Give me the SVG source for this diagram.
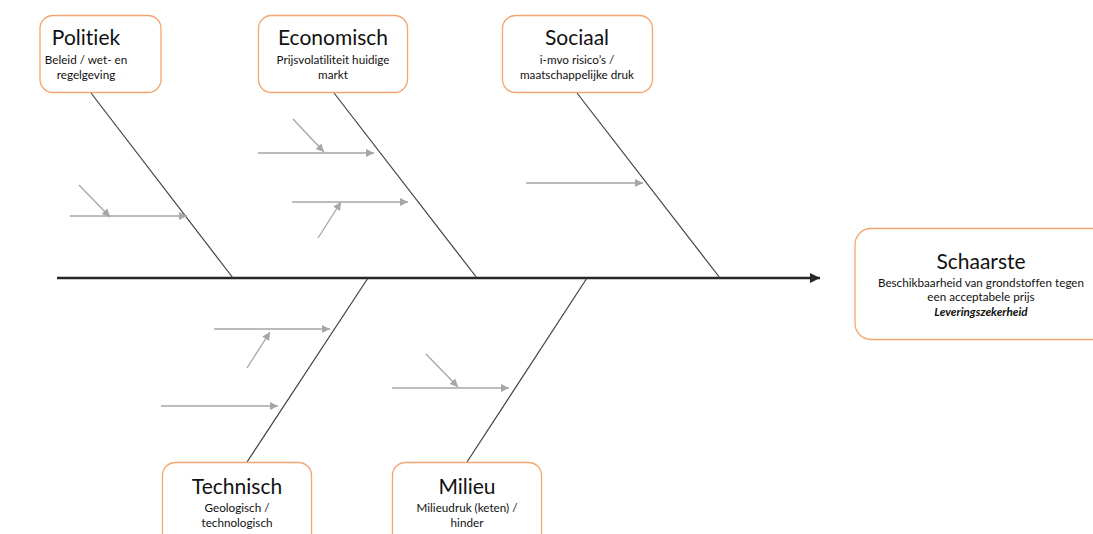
<svg xmlns="http://www.w3.org/2000/svg" width="1093" height="534" viewBox="0 0 1093 534">
  <style>
    text { font-variant-ligatures: none; font-feature-settings: "liga" 0, "dlig" 0; }
    .box { fill: #ffffff; stroke: #f4a46e; stroke-width: 1.3; }
    .title { font-family: Lato, "Open Sans", "Liberation Sans", sans-serif; font-size: 21px; fill: #111111; text-anchor: middle; }
    .sub { font-family: Lato, "Open Sans", "Liberation Sans", sans-serif; font-size: 11.7px; fill: #111111; text-anchor: middle; }
    .em { font-weight: bold; font-style: italic; }
    .bone { stroke: #404040; stroke-width: 1.2; fill: none; }
    .spine { stroke: #262626; stroke-width: 2.5; fill: none; }
    .cause { stroke: #a6a6a6; stroke-width: 1.3; fill: none; }
  </style>
  <defs>
    <marker id="arrow-gray" viewBox="0 0 10 10" refX="10" refY="5" markerWidth="9" markerHeight="8" markerUnits="userSpaceOnUse" orient="auto">
      <path d="M0,0 L10,5 L0,10 Z" fill="#a6a6a6"/>
    </marker>
    <marker id="arrow-dark" viewBox="0 0 10 10" refX="10" refY="5" markerWidth="10" markerHeight="10" markerUnits="userSpaceOnUse" orient="auto">
      <path d="M0,0 L10,5 L0,10 Z" fill="#262626"/>
    </marker>
  </defs>
  <rect width="1093" height="534" fill="#ffffff"/>

  <g id="connectors">
    <!-- spine -->
    <line class="spine" x1="57" y1="278" x2="820" y2="278" marker-end="url(#arrow-dark)"/>
    <!-- main bones -->
    <line class="bone" x1="91" y1="93" x2="233" y2="278"/>
    <line class="bone" x1="334" y1="93" x2="477" y2="278"/>
    <line class="bone" x1="577" y1="93" x2="720" y2="278"/>
    <line class="bone" x1="368" y1="278" x2="247" y2="462"/>
    <line class="bone" x1="587" y1="278" x2="467" y2="462"/>
    <!-- sub causes: Politiek -->
    <line class="cause" x1="70" y1="216" x2="187" y2="216" marker-end="url(#arrow-gray)"/>
    <line class="cause" x1="79" y1="185" x2="110" y2="217" marker-end="url(#arrow-gray)"/>
    <!-- sub causes: Economisch -->
    <line class="cause" x1="258" y1="153" x2="374" y2="153" marker-end="url(#arrow-gray)"/>
    <line class="cause" x1="293" y1="119" x2="324" y2="152" marker-end="url(#arrow-gray)"/>
    <line class="cause" x1="292" y1="202" x2="408" y2="202" marker-end="url(#arrow-gray)"/>
    <line class="cause" x1="318" y1="238" x2="341" y2="202" marker-end="url(#arrow-gray)"/>
    <!-- sub causes: Sociaal -->
    <line class="cause" x1="526" y1="183" x2="643" y2="183" marker-end="url(#arrow-gray)"/>
    <!-- sub causes: Technisch -->
    <line class="cause" x1="214" y1="329" x2="330" y2="329" marker-end="url(#arrow-gray)"/>
    <line class="cause" x1="247" y1="368" x2="270" y2="332" marker-end="url(#arrow-gray)"/>
    <line class="cause" x1="161" y1="406" x2="278" y2="406" marker-end="url(#arrow-gray)"/>
    <!-- sub causes: Milieu -->
    <line class="cause" x1="392" y1="388" x2="509" y2="388" marker-end="url(#arrow-gray)"/>
    <line class="cause" x1="426" y1="354" x2="458" y2="387" marker-end="url(#arrow-gray)"/>
  </g>

  <g id="politiek">
    <rect class="box" x="40" y="15.5" width="121" height="77" rx="13"/>
    <text class="title" x="86" y="45">Politiek</text>
    <text class="sub" x="86" y="64">Beleid / wet- en</text>
    <text class="sub" x="86" y="79">regelgeving</text>
  </g>

  <g id="economisch">
    <rect class="box" x="258.5" y="15.5" width="149" height="77" rx="13"/>
    <text class="title" x="333" y="45">Economisch</text>
    <text class="sub" x="333" y="64">Prijsvolatiliteit huidige</text>
    <text class="sub" x="333" y="79">markt</text>
  </g>

  <g id="sociaal">
    <rect class="box" x="502.5" y="15.5" width="150" height="77" rx="13"/>
    <text class="title" x="577" y="45">Sociaal</text>
    <text class="sub" x="577" y="64">i-mvo risico’s /</text>
    <text class="sub" x="577" y="79">maatschappelijke druk</text>
  </g>

  <g id="schaarste">
    <rect class="box" x="855" y="228.5" width="260" height="111" rx="16"/>
    <text class="title" x="981" y="269">Schaarste</text>
    <text class="sub" x="981" y="287">Beschikbaarheid van grondstoffen tegen</text>
    <text class="sub" x="981" y="301">een acceptabele prijs</text>
    <text class="sub em" x="981" y="316">Leveringszekerheid</text>
  </g>

  <g id="technisch">
    <rect class="box" x="162.5" y="462.5" width="149" height="90" rx="13"/>
    <text class="title" x="237" y="494">Technisch</text>
    <text class="sub" x="237" y="512">Geologisch /</text>
    <text class="sub" x="237" y="527">technologisch</text>
  </g>

  <g id="milieu">
    <rect class="box" x="392.5" y="462.5" width="149" height="90" rx="13"/>
    <text class="title" x="467" y="494">Milieu</text>
    <text class="sub" x="467" y="512">Milieudruk (keten) /</text>
    <text class="sub" x="467" y="527">hinder</text>
  </g>
</svg>
